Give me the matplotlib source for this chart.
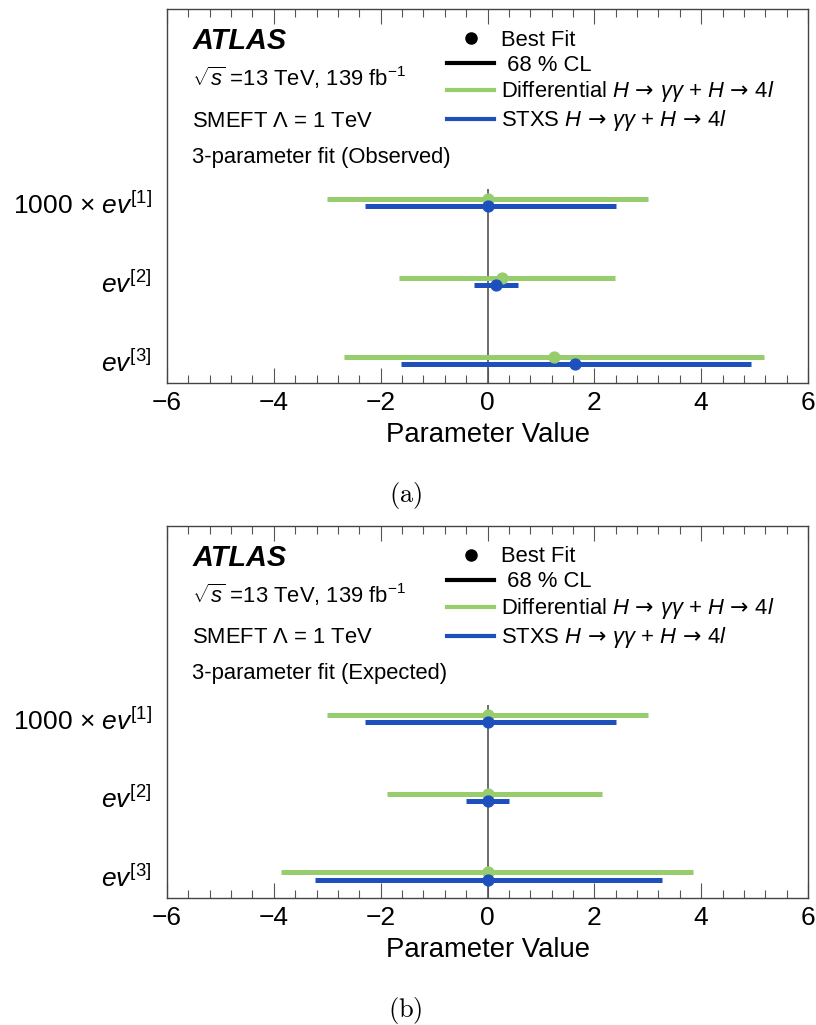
import numpy as np
import matplotlib
matplotlib.use('Agg')
import matplotlib.pyplot as plt
from matplotlib.lines import Line2D
from matplotlib.ticker import MultipleLocator

plt.rcParams['font.family'] = ['Liberation Sans', 'DejaVu Sans']
plt.rcParams['mathtext.fontset'] = 'custom'
plt.rcParams['mathtext.rm'] = 'Liberation Sans'
plt.rcParams['mathtext.it'] = 'Liberation Sans:italic'
plt.rcParams['mathtext.bf'] = 'Liberation Sans:bold'
plt.rcParams['mathtext.sf'] = 'DejaVu Sans'

# parameters (top to bottom)
params = [r'1000 $\times$ $\mathit{ev}^{[1]}$', r'$\mathit{ev}^{[2]}$', r'$\mathit{ev}^{[3]}$']

# (a) observed
obs_diff_best = [0.0, 0.27, 1.24]
obs_diff_lo = [-3.0, -1.65, -2.68]
obs_diff_hi = [3.0, 2.38, 5.17]
obs_stxs_best = [0.0, 0.15, 1.63]
obs_stxs_lo = [-2.30, -0.25, -1.62]
obs_stxs_hi = [2.40, 0.57, 4.93]

# (b) expected
exp_diff_best = [0.0, 0.0, 0.0]
exp_diff_lo = [-3.0, -1.89, -3.86]
exp_diff_hi = [3.0, 2.15, 3.84]
exp_stxs_best = [0.0, 0.0, 0.0]
exp_stxs_lo = [-2.30, -0.41, -3.23]
exp_stxs_hi = [2.40, 0.40, 3.26]

green = '#97cd6c'
blue = '#1d50bd'
fs_txt = 15.8


def draw_panel(ax, diff, stxs, fit_label, caption):
    ypos = np.arange(len(params))[::-1] + 1.0
    dy = 0.045
    ax.vlines(0, 0.72, 3.18, color='#444444', lw=1.1, zorder=1)
    for (best, lo, hi), col, off in ((diff, green, dy), (stxs, blue, -dy)):
        ax.hlines(ypos + off, lo, hi, color=col, lw=3.6, zorder=2)
        ax.plot(best, ypos + off, 'o', color=col, ms=7.8, zorder=3)

    ax.set_xlim(-6, 6)
    ax.set_ylim(0.72, 5.45)
    ax.xaxis.set_major_locator(MultipleLocator(2))
    ax.xaxis.set_minor_locator(MultipleLocator(0.4))
    ax.tick_params(axis='x', which='both', direction='in', top=True, labelsize=19,
                   color='#555555', pad=6)
    ax.tick_params(axis='x', which='major', length=11, width=0.8)
    ax.tick_params(axis='x', which='minor', length=6, width=0.8)
    ax.set_yticks(ypos)
    ax.set_yticklabels(params, fontsize=19)
    ax.tick_params(axis='y', length=0, pad=11)
    for s in ax.spines.values():
        s.set_color('#444444')
        s.set_linewidth(1.0)
    ax.set_xlabel('Parameter Value', fontsize=19.8, labelpad=5)

    ax.text(0.04, 0.915, 'ATLAS', transform=ax.transAxes, fontsize=20.8,
            fontweight='bold', fontstyle='italic', va='center')
    ax.text(0.039, 0.815, r'$\sqrt{s}$ =13 TeV, 139 fb$^{-1}$', transform=ax.transAxes,
            fontsize=fs_txt, va='center')
    ax.text(0.039, 0.70, r'SMEFT $\Lambda$ = 1 TeV', transform=ax.transAxes,
            fontsize=fs_txt, va='center')
    ax.text(0.039, 0.604, fit_label, transform=ax.transAxes,
            fontsize=fs_txt, va='center')

    handles = [
        Line2D([], [], ls='none', marker='o', color='black', ms=8),
        Line2D([], [], color='black', lw=3),
        Line2D([], [], color=green, lw=3),
        Line2D([], [], color=blue, lw=3),
    ]
    arrow = r'\,\mathsf{\rightarrow}\,'
    labels = ['Best Fit', ' 68 % CL',
              r'Differential $H' + arrow + r'\gamma\gamma$ + $H' + arrow + r'4l$',
              r'STXS $H' + arrow + r'\gamma\gamma$ + $H' + arrow + r'4l$']
    ax.legend(handles, labels, loc='upper left', bbox_to_anchor=(0.437, 0.945),
              frameon=False, fontsize=fs_txt, handlelength=2.15, handletextpad=0.3,
              labelspacing=0.18, borderpad=0, borderaxespad=0)

    bb = ax.get_position()
    fig.text(0.5 * (bb.x0 + bb.x1) - 0.101, bb.y0 - 0.11, caption, math_fontfamily='cm',
             fontsize=19, ha='center', va='center')


fig = plt.figure(figsize=(8.16, 10.25), dpi=100)
ax1 = fig.add_axes([0.2047, 0.6263, 0.7855, 0.3649])
ax2 = fig.add_axes([0.2047, 0.1239, 0.7855, 0.3629])

draw_panel(ax1, (obs_diff_best, obs_diff_lo, obs_diff_hi),
           (obs_stxs_best, obs_stxs_lo, obs_stxs_hi),
           '3-parameter fit (Observed)', r'$\mathrm{(a)}$')
draw_panel(ax2, (exp_diff_best, exp_diff_lo, exp_diff_hi),
           (exp_stxs_best, exp_stxs_lo, exp_stxs_hi),
           '3-parameter fit (Expected)', r'$\mathrm{(b)}$')

fig.savefig('out.png', dpi=100)
